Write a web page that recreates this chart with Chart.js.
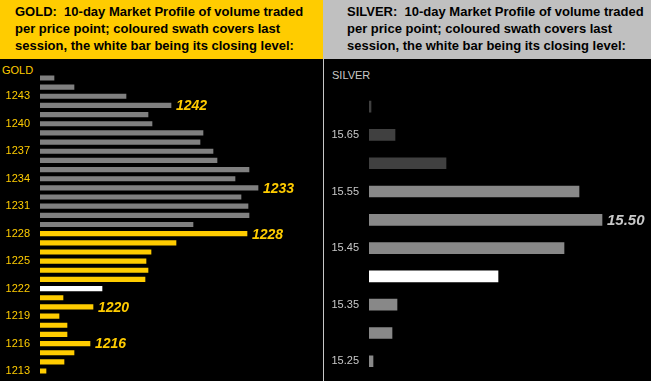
<!DOCTYPE html>
<html>
<head>
<meta charset="utf-8">
<script src="https://cdn.jsdelivr.net/npm/chart.js@4"></script>
<style>
  html, body { margin:0; padding:0; background:#000; width:651px; height:381px; overflow:hidden; }
  body { position:relative; font-family:"Liberation Sans", Arial, sans-serif; }
  .hdr { position:absolute; top:0; height:59px; color:#000; font-weight:bold; font-size:13px; line-height:17px; white-space:pre; box-sizing:border-box; }
  #gh { left:0; width:323px; background:#FFCC00; padding:3px 0 0 15px; }
  #sh { left:323px; width:328px; background:#C0C0C0; padding:3px 0 0 24px; }
  #sep { position:absolute; left:323px; top:59px; width:1px; height:322px; background:#C8C8C8; }
  canvas { position:absolute; top:60px; }
  #gc { left:0; }
  #sc { left:324px; }
  .ttl { position:absolute; font-size:11px; }
</style>
</head>
<body>
<div class="hdr" id="gh">GOLD:  10-day Market Profile of volume traded
per price point; coloured swath covers last
session, the white bar being its closing level:</div>
<div class="hdr" id="sh">SILVER:  10-day Market Profile of volume traded
per price point; coloured swath covers last
session, the white bar being its closing level:</div>
<div id="sep"></div>
<div class="ttl" style="left:2px;top:64px;color:#FFCC00;">GOLD</div>
<div class="ttl" style="left:332px;top:69px;color:#C8C8C8;">SILVER</div>
<canvas id="gc" width="323" height="321"></canvas>
<canvas id="sc" width="327" height="321"></canvas>
<script>
// ---- GOLD data ----
const goldPrices = ['1245','1244','1243','1242','1241','1240','1239','1238','1237','1236','1235','1234','1233','1232','1231','1230','1229','1228','1227','1226','1225','1224','1223','1222','1221','1220','1219','1218','1217','1216','1215','1214','1213'];
const goldVolume = [14,34,86,131,108,112,163,160,173,177,209,195,218,201,208,209,153,207,136,111,106,108,105,62,23,53,19,27,27,50,34,24,6];
const goldTickLabels = ['1243','1240','1237','1234','1231','1228','1225','1222','1219','1216','1213'];
const goldMarked = ['1242','1233','1228','1220','1216'];
const goldSessionHigh = 1228, goldSessionLow = 1213, goldClose = '1222';

// ---- SILVER data ----
const silverPrices = ['15.70','15.65','15.60','15.55','15.50','15.45','15.40','15.35','15.30','15.25'];
const silverVolume = [2,26,77,210,233,195,129,28,23,4];
const silverTickLabels = ['15.65','15.55','15.45','15.35','15.25'];
const silverMarked = ['15.50'];
const silverSessionHigh = 15.55, silverSessionLow = 15.25, silverClose = '15.40';

const goldColors = goldPrices.map(p => p === goldClose ? '#FFFFFF' :
  (+p >= goldSessionLow && +p <= goldSessionHigh ? '#FFCC00' : '#808080'));
const silverColors = silverPrices.map(p => p === silverClose ? '#FFFFFF' :
  (+p >= silverSessionLow && +p <= silverSessionHigh ? '#888888' : '#404040'));

const FONT = '"Liberation Sans", Arial, sans-serif';

function markPlugin(marked, color, size) {
  return {
    id: 'marks',
    afterDatasetsDraw(chart) {
      const ctx = chart.ctx;
      const meta = chart.getDatasetMeta(0);
      ctx.save();
      ctx.fillStyle = color;
      ctx.font = 'italic bold ' + size + 'px ' + FONT;
      ctx.textBaseline = 'middle';
      ctx.textAlign = 'left';
      chart.data.labels.forEach((lab, i) => {
        if (marked.includes(lab)) {
          const el = meta.data[i];
          ctx.fillText(lab, el.x + 5, el.y + 1);
        }
      });
      ctx.restore();
    }
  };
}

function makeChart(id, labels, values, colors, ticks, tickColor, yWidth, pad, xMax, thick, plugin) {
  return new Chart(document.getElementById(id), {
    type: 'bar',
    data: { labels: labels, datasets: [{ data: values, backgroundColor: colors, barThickness: thick, borderWidth: 0 }] },
    options: {
      indexAxis: 'y',
      responsive: false,
      devicePixelRatio: 1,
      animation: false,
      layout: { padding: pad, autoPadding: false },
      plugins: { legend: { display: false }, tooltip: { enabled: false } },
      scales: {
        x: { display: false, min: 0, max: xMax },
        y: {
          grid: { display: false, drawTicks: false },
          border: { display: false },
          afterFit(scale) { scale.width = yWidth; scale.paddingTop = 0; scale.paddingBottom = 0; },
          ticks: {
            autoSkip: false,
            padding: 10,
            color: tickColor,
            font: { family: FONT, size: 11 },
            callback(v) { const l = this.getLabelForValue(v); return ticks.includes(l) ? l : ''; }
          }
        }
      }
    },
    plugins: [plugin]
  });
}

makeChart('gc', goldPrices, goldVolume, goldColors, goldTickLabels, '#FFCC00', 40,
  { top: 13.4, bottom: 5.4, left: 0, right: 0 }, 283, 4.5, markPlugin(goldMarked, '#FFCC00', 14));
makeChart('sc', silverPrices, silverVolume, silverColors, silverTickLabels, '#C8C8C8', 45,
  { top: 32.5, bottom: 5.6, left: 0, right: 0 }, 282, 11, markPlugin(silverMarked, '#C8C8C8', 15));
</script>
</body>
</html>
